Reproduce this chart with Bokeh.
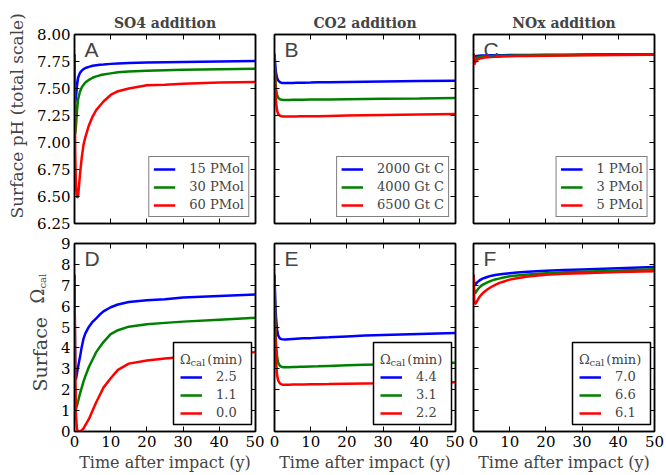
import math
from bokeh.plotting import figure
from bokeh.models import (Range1d, LinearAxis, FixedTicker, Legend, LegendItem, Label,
                          NumeralTickFormatter, BoxAnnotation, Title)
from bokeh.layouts import column, row
from bokeh.embed import file_html
from bokeh.resources import INLINE

# ---------------- data ----------------
time_y = [0, 0.2, 0.4, 0.7, 1.0, 1.5, 2.0, 2.5, 3, 4, 5, 6, 7, 8, 10, 12, 15, 20, 25, 30, 40, 50]

so4_ph_15 = [7.82, 7.37, 7.42, 7.53, 7.60, 7.645, 7.665, 7.68, 7.69, 7.70, 7.71, 7.715, 7.72, 7.722, 7.728, 7.732, 7.736, 7.74, 7.743, 7.746, 7.75, 7.755]
so4_ph_30 = [7.82, 7.08, 7.15, 7.30, 7.40, 7.47, 7.51, 7.535, 7.555, 7.58, 7.60, 7.612, 7.622, 7.63, 7.64, 7.65, 7.657, 7.665, 7.67, 7.673, 7.678, 7.683]
so4_ph_60 = [7.82, 6.90, 6.60, 6.49, 6.50, 6.70, 6.86, 6.98, 7.05, 7.16, 7.24, 7.30, 7.34, 7.38, 7.44, 7.475, 7.50, 7.53, 7.535, 7.545, 7.555, 7.56]

co2_ph_2000 = [7.82, 7.72, 7.65, 7.60, 7.575, 7.558, 7.552, 7.551, 7.551, 7.551, 7.552, 7.553, 7.553, 7.554, 7.555, 7.557, 7.559, 7.561, 7.563, 7.565, 7.569, 7.572]
co2_ph_4000 = [7.82, 7.62, 7.50, 7.44, 7.415, 7.40, 7.395, 7.394, 7.394, 7.394, 7.395, 7.395, 7.396, 7.396, 7.397, 7.398, 7.399, 7.401, 7.403, 7.405, 7.408, 7.412]
co2_ph_6500 = [7.82, 7.55, 7.38, 7.30, 7.265, 7.248, 7.242, 7.240, 7.240, 7.240, 7.241, 7.241, 7.242, 7.242, 7.243, 7.244, 7.246, 7.249, 7.252, 7.255, 7.26, 7.265]

nox_ph_1 = [7.82, 7.79, 7.795, 7.80, 7.802, 7.804, 7.805, 7.806, 7.806, 7.807, 7.808, 7.808, 7.809, 7.809, 7.81, 7.81, 7.811, 7.812, 7.813, 7.814, 7.816, 7.818]
nox_ph_3 = [7.82, 7.76, 7.77, 7.78, 7.786, 7.791, 7.794, 7.796, 7.797, 7.799, 7.80, 7.801, 7.802, 7.803, 7.804, 7.805, 7.806, 7.808, 7.809, 7.81, 7.813, 7.815]
nox_ph_5 = [7.82, 7.72, 7.74, 7.755, 7.765, 7.775, 7.78, 7.783, 7.786, 7.79, 7.792, 7.794, 7.795, 7.796, 7.798, 7.80, 7.802, 7.804, 7.806, 7.807, 7.81, 7.812]

so4_om_15 = [7.5, 2.6, 2.5, 2.8, 3.1, 3.55, 4.05, 4.45, 4.7, 5.02, 5.25, 5.42, 5.6, 5.75, 5.95, 6.08, 6.2, 6.28, 6.33, 6.42, 6.49, 6.56]
so4_om_30 = [7.5, 1.2, 1.1, 1.25, 1.45, 1.8, 2.1, 2.4, 2.65, 3.1, 3.45, 3.8, 4.05, 4.28, 4.66, 4.85, 5.02, 5.13, 5.2, 5.26, 5.35, 5.44]
so4_om_60 = [7.5, 3.0, 0.8, 0.1, 0.0, 0.0, 0.05, 0.15, 0.3, 0.6, 1.0, 1.4, 1.75, 2.1, 2.55, 2.95, 3.25, 3.4, 3.5, 3.57, 3.68, 3.8]

co2_om_2000 = [7.5, 6.3, 5.5, 4.9, 4.6, 4.45, 4.42, 4.41, 4.41, 4.42, 4.43, 4.44, 4.45, 4.46, 4.47, 4.49, 4.51, 4.55, 4.59, 4.62, 4.67, 4.72]
co2_om_4000 = [7.5, 5.5, 4.3, 3.6, 3.3, 3.14, 3.09, 3.08, 3.08, 3.08, 3.09, 3.09, 3.10, 3.10, 3.11, 3.12, 3.14, 3.17, 3.19, 3.21, 3.25, 3.29]
co2_om_6500 = [7.5, 4.8, 3.5, 2.7, 2.45, 2.3, 2.25, 2.24, 2.24, 2.24, 2.245, 2.25, 2.25, 2.25, 2.26, 2.265, 2.27, 2.29, 2.30, 2.31, 2.34, 2.36]

nox_om_1 = [7.5, 7.05, 7.0, 7.08, 7.14, 7.21, 7.27, 7.32, 7.35, 7.41, 7.46, 7.49, 7.52, 7.54, 7.58, 7.61, 7.65, 7.70, 7.73, 7.76, 7.82, 7.87]
nox_om_3 = [7.5, 6.7, 6.6, 6.68, 6.76, 6.87, 6.96, 7.02, 7.07, 7.15, 7.22, 7.28, 7.32, 7.36, 7.43, 7.47, 7.52, 7.58, 7.62, 7.65, 7.71, 7.77]
nox_om_5 = [7.5, 6.3, 6.1, 6.15, 6.25, 6.4, 6.52, 6.61, 6.69, 6.82, 6.93, 7.02, 7.1, 7.16, 7.27, 7.34, 7.42, 7.5, 7.55, 7.58, 7.63, 7.67]

titles = ["SO4 addition", "CO2 addition", "NOx addition"]
ph_labels = [["15 PMol", "30 PMol", "60 PMol"],
             ["2000 Gt C", "4000 Gt C", "6500 Gt C"],
             ["1 PMol", "3 PMol", "5 PMol"]]
omega_min_labels = [["2.5", "1.1", "0.0"], ["4.4", "3.1", "2.2"], ["7.0", "6.6", "6.1"]]
panel_letters = ["A", "B", "C", "D", "E", "F"]
ph_ticks = [6.25, 6.5, 6.75, 7.0, 7.25, 7.5, 7.75, 8.0]
omega_ticks = [0, 1, 2, 3, 4, 5, 6, 7, 8, 9]
time_ticks = [0, 10, 20, 30, 40, 50]
ph_series = [[so4_ph_15, so4_ph_30, so4_ph_60],
             [co2_ph_2000, co2_ph_4000, co2_ph_6500],
             [nox_ph_1, nox_ph_3, nox_ph_5]]
om_series = [[so4_om_15, so4_om_30, so4_om_60],
             [co2_om_2000, co2_om_4000, co2_om_6500],
             [nox_om_1, nox_om_3, nox_om_5]]

# ---------------- styling ----------------
COLORS = ["#0000ff", "#008000", "#ff0000"]
SERIF = "DejaVu Serif"
FW = 181
FH_TOP, FH_BOT = 189, 188
TOP_H = 34 + FH_TOP + 10
BOT_H = 10 + FH_BOT + 41
YLAB_TOP_W, YLAB_BOT_W = 30, 56


def style_axis(ax, ticks, show_labels):
    ax.ticker = FixedTicker(ticks=ticks)
    ax.major_tick_in = 5
    ax.major_tick_out = 0
    ax.minor_tick_in = 0
    ax.minor_tick_out = 0
    ax.major_tick_line_color = "black"
    ax.major_tick_line_width = 1
    ax.axis_line_color = "black"
    ax.axis_line_width = 1.5
    ax.axis_label = None
    if show_labels:
        ax.major_label_text_font = SERIF
        ax.major_label_text_font_size = "15px"
        ax.major_label_text_color = "black"
        ax.major_label_standoff = 4
    else:
        ax.major_label_text_font_size = "1px"
        ax.major_label_text_color = None
        ax.major_label_standoff = 0


def style_legend(leg):
    leg.label_text_font = SERIF
    leg.label_text_font_size = "13px"
    leg.glyph_width = 22
    leg.glyph_height = 12
    leg.label_height = 12
    leg.spacing = 3
    leg.padding = 4
    leg.label_standoff = 14


def make_panel(col, top_row):
    if top_row:
        series, yr, yticks = ph_series[col], (6.25, 8.0), ph_ticks
    else:
        series, yr, yticks = om_series[col], (0, 9), omega_ticks
    if col == 0:
        left = (74 - YLAB_TOP_W) if top_row else (74 - YLAB_BOT_W)
    else:
        left = 10 if col == 1 else 9
    right = 9 if col < 2 else 10
    p = figure(frame_width=FW, frame_height=FH_TOP if top_row else FH_BOT,
               x_range=Range1d(0, 50), y_range=Range1d(*yr),
               output_backend="svg", toolbar_location=None,
               min_border_left=left, min_border_right=right,
               min_border_top=34 if top_row else 10,
               min_border_bottom=10 if top_row else 41,
               background_fill_color="white", border_fill_color="white",
               outline_line_color="black", outline_line_width=1.5)
    p.grid.visible = False
    xb = p.below[0]
    yl = p.left[0]
    style_axis(xb, time_ticks, not top_row)
    style_axis(yl, yticks, col == 0)
    if top_row:
        yl.formatter = NumeralTickFormatter(format="0.00")
    ax_top = LinearAxis()
    style_axis(ax_top, time_ticks, False)
    p.add_layout(ax_top, "above")
    ax_right = LinearAxis()
    style_axis(ax_right, yticks, False)
    p.add_layout(ax_right, "right")

    rends = []
    for ys, c in zip(series, COLORS):
        rends.append(p.line(time_y, ys, line_color=c, line_width=2.5))

    if top_row:
        p.title.text = titles[col]
        p.title.align = "center"
        p.title.text_font = SERIF
        p.title.text_font_style = "bold"
        p.title.text_font_size = "14px"
        p.title.standoff = 7
        labels = ph_labels[col]
        leg = Legend(items=[LegendItem(label=l, renderers=[r]) for l, r in zip(labels, rends)],
                     location="bottom_right", margin=6)
        leg.border_line_color = "black"
        leg.border_line_width = 1.5
        leg.background_fill_color = "white"
        leg.background_fill_alpha = 1
        style_legend(leg)
        p.add_layout(leg)
    else:
        xb.axis_label = "Time after impact (y)"
        xb.axis_label_text_font = SERIF
        xb.axis_label_text_font_size = "16px"
        xb.axis_label_text_font_style = "normal"
        xb.axis_label_standoff = 3
        # opaque legend frame drawn below a transparent legend so the subscript shows
        p.add_layout(BoxAnnotation(left=99, right=177, bottom=7, top=89,
                                   left_units="screen", right_units="screen",
                                   bottom_units="screen", top_units="screen",
                                   fill_color="white", fill_alpha=1,
                                   line_color="black", line_alpha=1, line_width=1.5,
                                   editable=False))
        labels = omega_min_labels[col]
        leg = Legend(items=[LegendItem(label=l, renderers=[r]) for l, r in zip(labels, rends)],
                     location=(102, 7), margin=0,
                     title="\u03a9\u00a0\u00a0\u00a0\u00a0(min)")
        leg.title_text_font = SERIF
        leg.title_text_font_size = "13px"
        leg.title_text_font_style = "normal"
        leg.title_standoff = 2
        leg.border_line_alpha = 0
        leg.background_fill_alpha = 0
        style_legend(leg)
        p.add_layout(leg)
        p.add_layout(Label(x=102 + 4 + 10, y=69, x_units="screen", y_units="screen",
                           text="cal", text_font=SERIF, text_font_size="10px",
                           text_baseline="alphabetic"))

    fh = FH_TOP if top_row else FH_BOT
    p.add_layout(Label(x=10, y=fh - 3, x_units="screen", y_units="screen",
                       text=panel_letters[col + (0 if top_row else 3)],
                       text_font="Liberation Sans", text_font_size="21px",
                       text_baseline="top"))
    return p


def make_ylabel_fig(w, h, left_border=0):
    f = figure(width=w, height=h, x_range=Range1d(0, 1), y_range=Range1d(0, 1),
               x_axis_type=None, y_axis_type=None, output_backend="svg",
               toolbar_location=None, min_border=0, min_border_left=left_border,
               outline_line_color=None,
               background_fill_color="white", border_fill_color="white")
    return f


A, B, C = (make_panel(i, True) for i in range(3))
D, E, F = (make_panel(i, False) for i in range(3))

# top y label: a side title (not clipped by the frame)
ylab_top = make_ylabel_fig(YLAB_TOP_W, TOP_H, left_border=26)
ylab_top.add_layout(Title(text="Surface pH (total scale)", align="left", offset=5,
                          text_font=SERIF, text_font_size="17px", text_font_style="normal",
                          standoff=0), "left")

# bottom y label: rotated texts inside the (row-aligned) frame
ylab_bot = make_ylabel_fig(YLAB_BOT_W, BOT_H)
ylab_bot.add_layout(Label(x=39, y=38, x_units="screen", y_units="screen", angle=math.pi / 2,
                          text="Surface", text_font=SERIF, text_font_size="19px",
                          text_baseline="alphabetic", text_align="left"))
ylab_bot.add_layout(Label(x=37, y=126, x_units="screen", y_units="screen", angle=math.pi / 2,
                          text="\u03a9", text_font=SERIF, text_font_size="18px",
                          text_baseline="alphabetic", text_align="left"))
ylab_bot.add_layout(Label(x=42, y=141, x_units="screen", y_units="screen", angle=math.pi / 2,
                          text="cal", text_font=SERIF, text_font_size="10px",
                          text_baseline="alphabetic", text_align="left"))

layout = column(row(ylab_top, A, B, C), row(ylab_bot, D, E, F))
open("out.html", "w").write(file_html(layout, INLINE))
